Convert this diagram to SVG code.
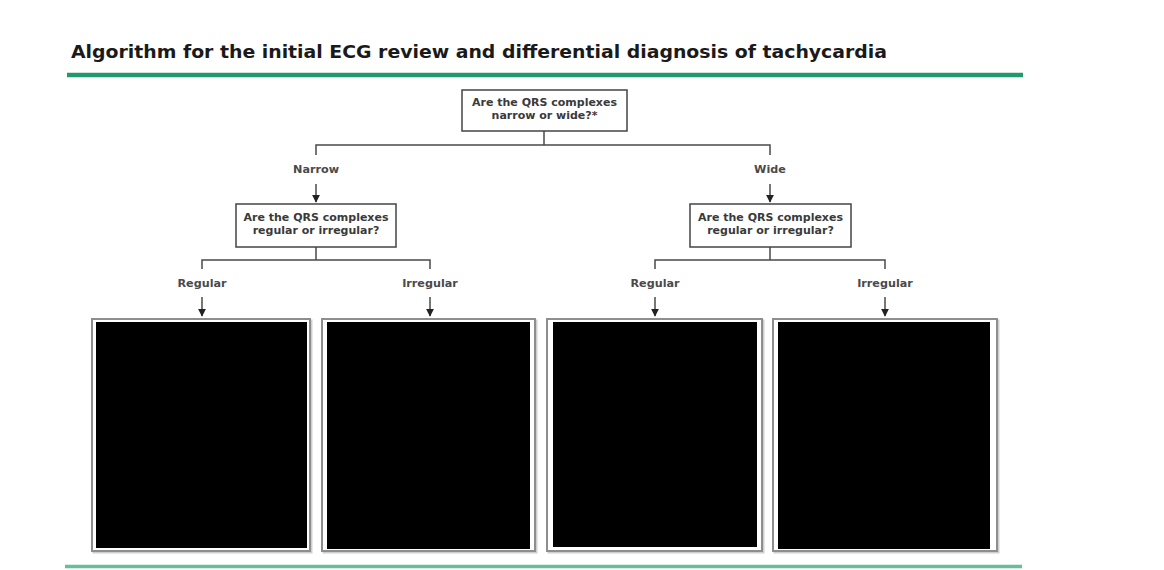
<svg xmlns="http://www.w3.org/2000/svg" width="1164" height="570" viewBox="0 0 1164 570">
<defs>
<style>
.title{font-family:"DejaVu Sans","Liberation Sans",sans-serif;font-weight:bold;font-size:18.5px;fill:#1a1a1a}
.t{font-family:"DejaVu Sans","Liberation Sans",sans-serif;font-weight:bold;font-size:11px;fill:#3a3a3a;text-anchor:middle}
.lbl{font-family:"DejaVu Sans","Liberation Sans",sans-serif;font-weight:bold;font-size:11.2px;fill:#4a4a4a;text-anchor:middle}
.q{fill:#fff;stroke:#444;stroke-width:1.5}
.c{fill:none;stroke:#4a4a4a;stroke-width:1.5}
.outer{fill:#fff;stroke:#8e8e8e;stroke-width:2}
.shadow{fill:none;stroke:#cfcfcf;stroke-width:2}
.blk{fill:#000}
</style>
<marker id="ah" viewBox="0 0 10 10" refX="9" refY="5" markerWidth="8" markerHeight="8" markerUnits="userSpaceOnUse" orient="auto">
<path d="M0,0 L10,5 L0,10 z" fill="#222"/>
</marker>
</defs>
<rect width="1164" height="570" fill="#fff"/>
<text class="title" x="71" y="58" textLength="816" lengthAdjust="spacingAndGlyphs">Algorithm for the initial ECG review and differential diagnosis of tachycardia</text>
<line x1="67" y1="75" x2="1023" y2="75" stroke="#1f9b6b" stroke-width="4.5"/>
<line x1="65" y1="566.5" x2="1022" y2="566.5" stroke="#66bf9c" stroke-width="3.5"/>

<g id="connectors">
<path class="c" d="M544,131 V145 M316,155 V145 H770 V155"/>
<line class="c" x1="316" y1="184" x2="316" y2="202" marker-end="url(#ah)"/>
<line class="c" x1="770" y1="184" x2="770" y2="202" marker-end="url(#ah)"/>
<path class="c" d="M316,247 V260 M202,269 V260 H430 V269"/>
<path class="c" d="M770,247 V260 M655,269 V260 H885 V269"/>
<line class="c" x1="202" y1="297" x2="202" y2="316" marker-end="url(#ah)"/>
<line class="c" x1="430" y1="297" x2="430" y2="316" marker-end="url(#ah)"/>
<line class="c" x1="655" y1="297" x2="655" y2="316" marker-end="url(#ah)"/>
<line class="c" x1="885" y1="297" x2="885" y2="316" marker-end="url(#ah)"/>
<text class="lbl" x="316" y="173">Narrow</text>
<text class="lbl" x="770" y="173">Wide</text>
<text class="lbl" x="202" y="287">Regular</text>
<text class="lbl" x="430" y="287">Irregular</text>
<text class="lbl" x="655" y="287">Regular</text>
<text class="lbl" x="885" y="287">Irregular</text>
</g>

<g id="q-top">
<rect class="q" x="462" y="90" width="165" height="41"/>
<text class="t" x="544.5" y="106">Are the QRS complexes</text>
<text class="t" x="544.5" y="119">narrow or wide?*</text>
</g>
<g id="q-narrow">
<rect class="q" x="236" y="204" width="160" height="43"/>
<text class="t" x="316" y="221">Are the QRS complexes</text>
<text class="t" x="316" y="234">regular or irregular?</text>
</g>
<g id="q-wide">
<rect class="q" x="690" y="204" width="161" height="43"/>
<text class="t" x="770.5" y="221">Are the QRS complexes</text>
<text class="t" x="770.5" y="234">regular or irregular?</text>
</g>

<g id="box-narrow-regular">
<rect class="shadow" x="93.5" y="320.5" width="218" height="232"/>
<rect class="outer" x="92" y="319" width="218" height="232"/>
<rect class="blk" x="96" y="322" width="211" height="226"/>
</g>
<g id="box-narrow-irregular">
<rect class="shadow" x="323.5" y="320.5" width="213" height="232"/>
<rect class="outer" x="322" y="319" width="213" height="232"/>
<rect class="blk" x="327" y="322" width="203" height="227"/>
</g>
<g id="box-wide-regular">
<rect class="shadow" x="548.5" y="320.5" width="215" height="232"/>
<rect class="outer" x="547" y="319" width="215" height="232"/>
<rect class="blk" x="553" y="322" width="204" height="225"/>
</g>
<g id="box-wide-irregular">
<rect class="shadow" x="774.5" y="320.5" width="224" height="232"/>
<rect class="outer" x="773" y="319" width="224" height="232"/>
<rect class="blk" x="778" y="322" width="212" height="227"/>
</g>
</svg>
